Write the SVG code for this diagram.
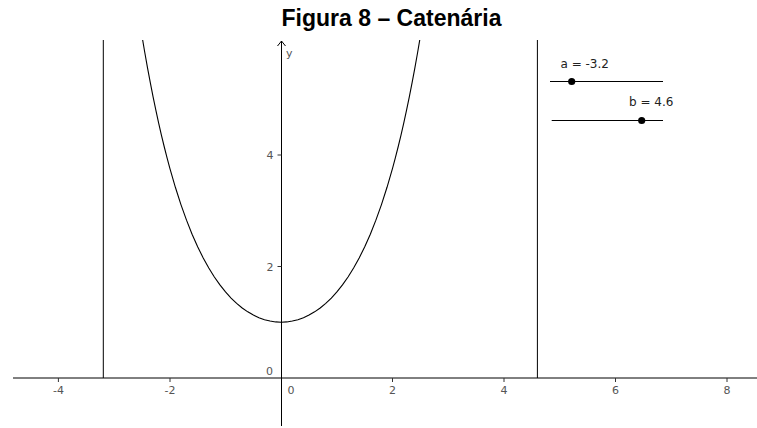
<svg xmlns="http://www.w3.org/2000/svg" width="757" height="428" viewBox="0 0 757 428">
<style>
.title{font-family:"Liberation Sans",Arial,sans-serif;font-weight:bold;font-size:23px;fill:#000}
.lbl{font-family:"DejaVu Sans","Liberation Sans",sans-serif;font-size:11px;fill:#555}
.sl{font-family:"DejaVu Sans","Liberation Sans",sans-serif;font-size:12px;fill:#222}
.ax{stroke:#000;stroke-width:1;fill:none}
.tk{stroke:#333;stroke-width:1}
.ln{stroke:#000;stroke-width:1.1;fill:none}
</style>
<defs>
<clipPath id="plot"><rect x="0" y="40" width="757" height="388"/></clipPath>
</defs>
<rect width="757" height="428" fill="#fff"/>
<text class="title" x="391.5" y="26" text-anchor="middle">Figura 8 – Catenária</text>
<g id="axes">
<line class="ax" x1="13" y1="378" x2="757" y2="378"/>
<line class="ax" x1="281.5" y1="41" x2="281.5" y2="426"/>
<polyline class="ax" points="277.5,46 281.5,41 285.5,46"/>
<text class="lbl" x="286" y="57">y</text>
<g class="tk">
<line x1="58.4" y1="378" x2="58.4" y2="382"/>
<line x1="170" y1="378" x2="170" y2="382"/>
<line x1="392.5" y1="378" x2="392.5" y2="382"/>
<line x1="504" y1="378" x2="504" y2="382"/>
<line x1="615.5" y1="378" x2="615.5" y2="382"/>
<line x1="727" y1="378" x2="727" y2="382"/>
<line x1="277.5" y1="155" x2="281.5" y2="155"/>
<line x1="277.5" y1="266.5" x2="281.5" y2="266.5"/>
</g>
<text class="lbl" x="58.4" y="393.5" text-anchor="middle">-4</text>
<text class="lbl" x="170" y="393.5" text-anchor="middle">-2</text>
<text class="lbl" x="392.5" y="393.5" text-anchor="middle">2</text>
<text class="lbl" x="504" y="393.5" text-anchor="middle">4</text>
<text class="lbl" x="615.5" y="393.5" text-anchor="middle">6</text>
<text class="lbl" x="727" y="393.5" text-anchor="middle">8</text>
<text class="lbl" x="291" y="393.5" text-anchor="middle">0</text>
<text class="lbl" x="269.5" y="375" text-anchor="middle">0</text>
<text class="lbl" x="270" y="159" text-anchor="middle">4</text>
<text class="lbl" x="270" y="270.5" text-anchor="middle">2</text>
</g>
<g id="connectors">
<line id="line-a" class="ax" x1="103.3" y1="40" x2="103.3" y2="378"/>
<line id="line-b" class="ax" x1="537.4" y1="40" x2="537.4" y2="378"/>
</g>
<g id="curve" clip-path="url(#plot)">
<polyline class="ln" points="141.95,35.82 144.7,52 147.52,67.92 150.3,82.7 153.09,96.92 155.9,110.3 158.66,123.11 161.4,135.2 164.23,146.75 167,157.6 169.8,168.07 175.37,187.29 180.94,204.6 186.51,220.18 192.08,234.18 197.65,246.74 203.22,257.98 208.79,268.02 214.36,276.96 219.93,284.9 225.5,291.9 231.07,298.03 236.64,303.37 242.21,307.96 247.78,311.85 253.35,315.08 258.92,317.68 264.49,319.67 270.06,321.08 275.63,321.92 281.2,322.2 286.77,321.92 292.34,321.08 297.91,319.67 303.48,317.68 309.05,315.08 314.62,311.85 320.19,307.96 325.76,303.37 331.33,298.03 336.9,291.9 342.47,284.9 348.04,276.96 353.61,268.02 359.18,257.98 364.75,246.74 370.32,234.18 375.89,220.18 381.46,204.6 387.03,187.29 392.6,168.07 395.4,157.6 398.17,146.75 401,135.2 403.74,123.11 406.5,110.3 409.31,96.92 412.1,82.7 414.88,67.92 417.7,52 420.45,35.82"/>
</g>
<g id="slider-a">
<text class="sl" x="560.5" y="68">a = -3.2</text>
<line class="ax" x1="550" y1="81.5" x2="663" y2="81.5"/>
<circle cx="571.7" cy="81.5" r="3.6" fill="#000"/>
</g>
<g id="slider-b">
<text class="sl" x="629" y="106">b = 4.6</text>
<line class="ax" x1="551.7" y1="120.5" x2="663" y2="120.5"/>
<circle cx="641.7" cy="120.5" r="3.6" fill="#000"/>
</g>
</svg>
